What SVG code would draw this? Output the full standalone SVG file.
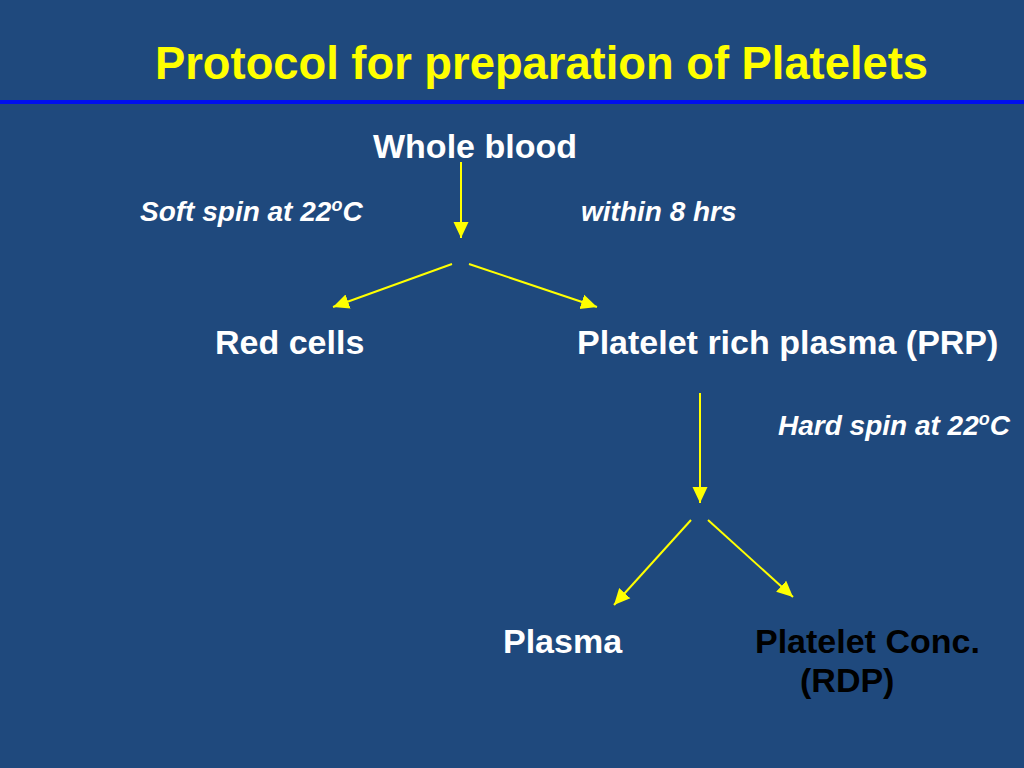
<svg xmlns="http://www.w3.org/2000/svg" width="1024" height="768" viewBox="0 0 1024 768">
<style>
.t{font-family:"Liberation Sans",Arial,sans-serif;font-weight:bold;font-size:34px;fill:#ffffff}
.i{font-family:"Liberation Sans",Arial,sans-serif;font-weight:bold;font-style:italic;font-size:28px;fill:#ffffff}
.c{stroke:#ffff00;stroke-width:2;fill:none}
</style>
<defs>
<marker id="ah" markerUnits="userSpaceOnUse" markerWidth="17" markerHeight="17" viewBox="0 0 17 17" refX="16" refY="8.5" orient="auto">
<path d="M0,1 L16,8.5 L0,16 Z" fill="#ffff00"/>
</marker>
</defs>
<rect width="1024" height="768" fill="#1f497d"/>
<rect x="0" y="100" width="1024" height="4" fill="#0010ee"/>
<text x="155" y="79" font-family="Liberation Sans,Arial,sans-serif" font-weight="bold" font-size="46" fill="#ffff00" textLength="773" lengthAdjust="spacingAndGlyphs">Protocol for preparation of Platelets</text>
<g id="whole-blood"><text class="t" x="373" y="158">Whole blood</text></g>
<g id="soft-spin"><text class="i" x="140" y="221">Soft spin at 22<tspan font-size="18" dy="-10">o</tspan><tspan dy="10">C</tspan></text></g>
<g id="within"><text class="i" x="581" y="221">within 8 hrs</text></g>
<g id="red-cells"><text class="t" x="215" y="354">Red cells</text></g>
<g id="prp"><text class="t" x="577" y="354">Platelet rich plasma (PRP)</text></g>
<g id="hard-spin"><text class="i" x="778" y="435">Hard spin at 22<tspan font-size="18" dy="-10">o</tspan><tspan dy="10">C</tspan></text></g>
<g id="plasma"><text class="t" x="503" y="653">Plasma</text></g>
<g id="platelet-conc"><text class="t" x="755" y="653" style="fill:#000000">Platelet Conc.</text><text class="t" x="800" y="692" style="fill:#000000">(RDP)</text></g>
<g id="connectors">
<line class="c" x1="461" y1="162" x2="461" y2="238" marker-end="url(#ah)"/>
<line class="c" x1="452" y1="264" x2="333" y2="307" marker-end="url(#ah)"/>
<line class="c" x1="469" y1="264" x2="597" y2="307" marker-end="url(#ah)"/>
<line class="c" x1="700" y1="393" x2="700" y2="503" marker-end="url(#ah)"/>
<line class="c" x1="691" y1="520" x2="614" y2="605" marker-end="url(#ah)"/>
<line class="c" x1="708" y1="520" x2="793" y2="597" marker-end="url(#ah)"/>
</g>
</svg>
